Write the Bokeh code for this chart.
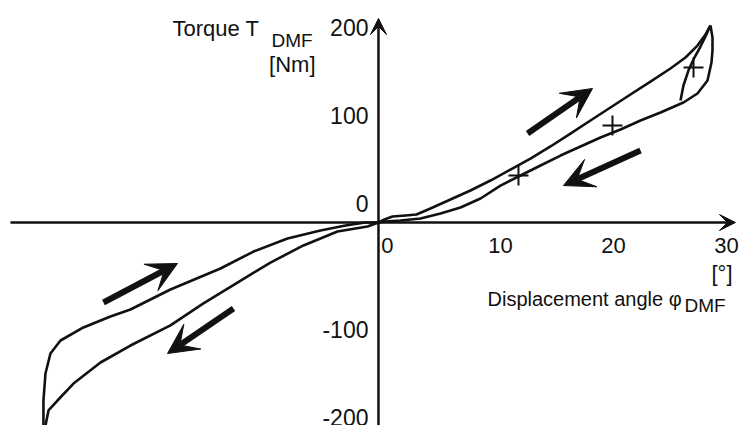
from bokeh.plotting import figure
from bokeh.models import Arrow, VeeHead, Label, ColumnDataSource, Range1d
from bokeh.core.properties import value
from bokeh.embed import file_html
from bokeh.resources import INLINE

# ---- data: displacement angle [deg], torque [Nm] ----
# positive side, loading (upper branch)
pos_load_x = [0, 0.53, 1.24, 2.39, 3.36, 4.60, 6.37, 8.14, 9.91, 11.68, 13.45, 15.22,
              16.99, 18.76, 20.53, 22.30, 24.07, 25.84, 27.17, 28.23, 28.94, 29.38]
pos_load_t = [0, 3.4, 6.8, 8.0, 9.1, 15.9, 26.1, 36.4, 47.7, 60.2, 72.7, 86.4,
              101.1, 115.9, 130.7, 145.5, 160.2, 175.0, 187.5, 201.1, 213.6, 223.9]
# positive side, unloading (outer right + lower branch)
pos_unload_x = [29.38, 29.56, 29.56, 29.47, 29.12, 28.23, 26.99, 24.96, 23.19, 21.42,
                19.65, 17.88, 16.11, 14.34, 12.57, 10.80, 9.03, 7.26, 5.49, 3.72,
                1.95, 0.62, 0]
pos_unload_t = [223.9, 210.2, 195.5, 181.8, 161.4, 146.6, 136.4, 125.0, 115.9, 105.7,
                96.6, 86.4, 76.1, 64.8, 53.4, 42.0, 27.3, 17.0, 10.2, 4.5,
                2.3, 1.1, 0]
# small reloading loop near the maximum
inner_x = [26.73, 26.99, 27.43, 27.96, 28.50, 28.94, 29.29]
inner_t = [138.6, 155.7, 172.7, 187.5, 200.0, 211.4, 221.6]
# negative side, unloading (lower branch)
neg_unload_x = [0, -0.97, -2.04, -3.63, -6.64, -9.56, -12.48, -15.49, -18.41, -21.95,
                -24.60, -26.99, -28.41, -29.20, -29.47, -29.56]
neg_unload_t = [0, -4.5, -6.8, -10.2, -26.1, -45.5, -68.2, -92.0, -117.0, -139.8,
                -159.1, -183.0, -202.3, -213.6, -230.7, -247.7]
# negative side, loading back (upper branch)
neg_load_x = [-29.56, -29.65, -29.65, -29.47, -29.03, -28.14, -26.11, -23.72, -21.95,
              -18.41, -13.98, -11.06, -8.05, -5.13, -2.92, -1.15, 0]
neg_load_t = [-247.7, -230.7, -202.3, -171.6, -148.9, -134.1, -119.3, -106.8, -98.9,
              -76.1, -52.3, -33.0, -18.2, -9.1, -3.4, 0, 0]
# cross marks
cross_x = [12.39, 20.71, 27.88]
cross_t = [53.4, 110.2, 176.1]
# direction arrows (start x, start t, end x, end t)
dir_arrows = [
    (13.19, 101.1, 18.94, 152.3),
    (23.19, 81.8, 16.37, 42.0),
    (-24.34, -90.9, -17.79, -46.6),
    (-12.83, -97.7, -18.67, -148.9),
]
# tick labels
xtick_vals = [0, 10, 20, 30]
xtick_labels = ["0", "10", "20", "30"]
ytick_vals = [200, 100, 0, -100, -200]
ytick_labels = ["200", "100", "0", "-100", "-200"]

X0, X1 = -33.45, 31.95
Y0, Y1 = -230.7, 252.3
INK = "#111111"
FONT = value("Liberation Sans")

p = figure(width=739, height=425, output_backend="svg", toolbar_location=None,
           x_range=Range1d(X0, X1), y_range=Range1d(Y0, Y1),
           x_axis_location=None, y_axis_location=None, min_border=0)
p.xgrid.visible = False
p.ygrid.visible = False
p.outline_line_color = None
p.background_fill_color = "white"

# coordinate axes with arrow heads
p.add_layout(Arrow(end=VeeHead(size=16, fill_color=INK, line_color=INK, line_width=1),
                   x_start=-32.57, y_start=0, x_end=31.59, y_end=0,
                   line_color=INK, line_width=2.5))
p.add_layout(Arrow(end=VeeHead(size=16, fill_color=INK, line_color=INK, line_width=1),
                   x_start=0, y_start=Y0, x_end=0, y_end=231.8,
                   line_color=INK, line_width=2.5))

# hysteresis curves
for xs, ts in [(pos_load_x, pos_load_t), (pos_unload_x, pos_unload_t),
               (inner_x, inner_t), (neg_unload_x, neg_unload_t),
               (neg_load_x, neg_load_t)]:
    p.line(xs, ts, line_color=INK, line_width=2.6, line_join="round")

p.scatter(cross_x, cross_t, marker="cross", size=20, line_color=INK, line_width=2)

for xs, ys, xe, ye in dir_arrows:
    p.add_layout(Arrow(end=VeeHead(size=30, fill_color=INK, line_color=INK, line_width=1),
                       x_start=xs, y_start=ys, x_end=xe, y_end=ye,
                       line_color=INK, line_width=6))

# tick labels
xsrc = ColumnDataSource(dict(x=xtick_vals, y=[0] * len(xtick_vals), text=xtick_labels))
p.text(x="x", y="y", text="text", source=xsrc, text_align="center",
       text_baseline="middle", x_offset=9, y_offset=23,
       text_font=FONT, text_font_size="22px", text_color=INK)
ysrc = ColumnDataSource(dict(x=[0] * len(ytick_vals), y=ytick_vals, text=ytick_labels,
                             yoff=[-19 if v >= 0 else 19 for v in ytick_vals]))
p.text(x="x", y="y", text="text", source=ysrc, text_align="right",
       text_baseline="middle", x_offset=-10, y_offset="yoff",
       text_font=FONT, text_font_size="23px", text_color=INK)

# axis titles (screen units)
def lab(txt, sx, sy, size, align="left"):
    p.add_layout(Label(x=sx, y=sy, x_units="screen", y_units="screen", text=txt,
                       text_font="Liberation Sans", text_font_size=size,
                       text_color=INK, text_align=align, text_baseline="alphabetic"))

lab("Torque T", 172, 397, "22px")
lab("DMF", 271, 385, "19px")
lab("[Nm]", 315, 361, "22px", "right")
lab("[°]", 711, 152, "22px")
lab("Displacement angle φ", 487, 127, "20px")
lab("DMF", 684, 120, "19px")

open("out.html", "w").write(file_html(p, INLINE))
